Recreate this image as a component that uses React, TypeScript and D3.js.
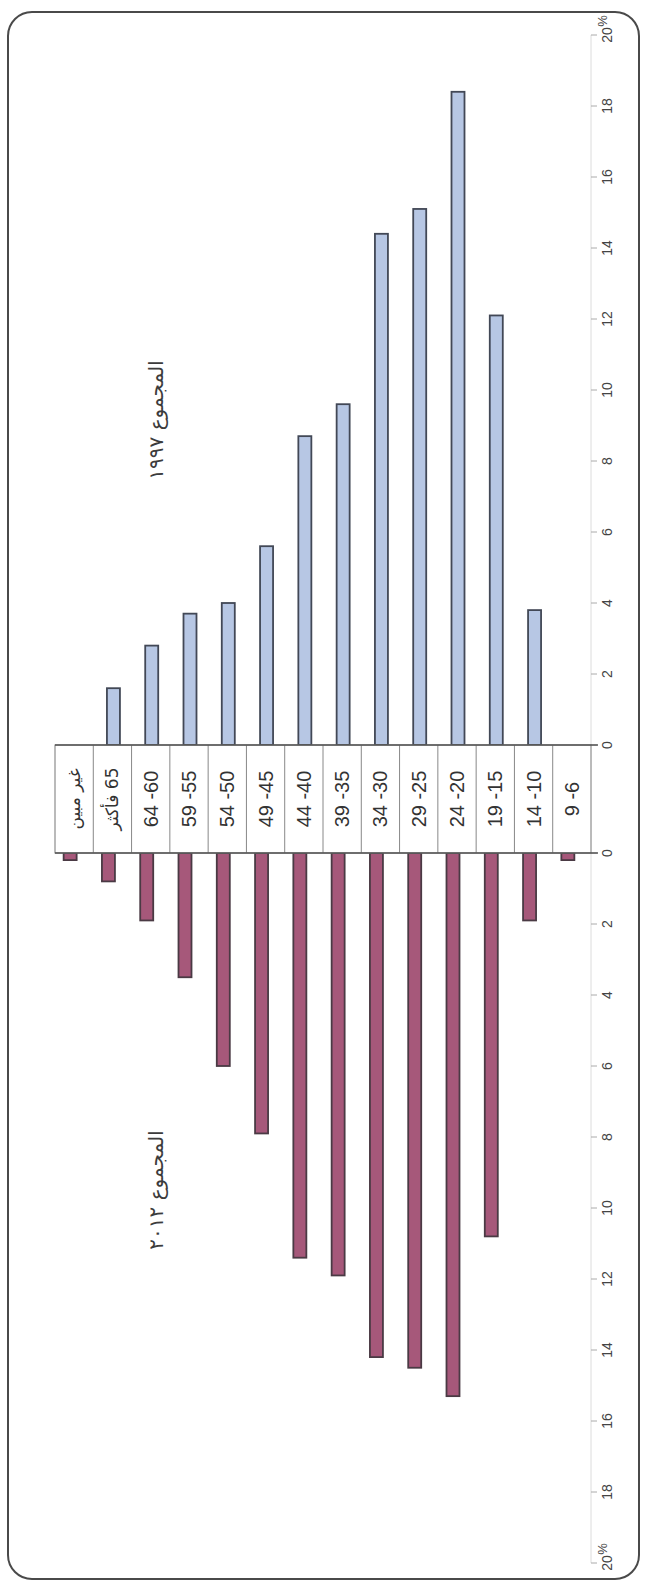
import { scaleBand, scaleLinear } from 'd3';

// Age groups, in the order they run across the (rotated) chart
const ageGroups = [
  'غير مبين',
  '65 فأكثر',
  '64 -60',
  '59 -55',
  '54 -50',
  '49 -45',
  '44 -40',
  '39 -35',
  '34 -30',
  '29 -25',
  '24 -20',
  '19 -15',
  '14 -10',
  '9 -6',
];

// Share of total, percent
const total1997 = [0, 1.6, 2.8, 3.7, 4.0, 5.6, 8.7, 9.6, 14.4, 15.1, 18.4, 12.1, 3.8, 0];
const total2012 = [0.2, 0.8, 1.9, 3.5, 6.0, 7.9, 11.4, 11.9, 14.2, 14.5, 15.3, 10.8, 1.9, 0.2];

const valueTicks = [0, 2, 4, 6, 8, 10, 12, 14, 16, 18, 20];
const title1997 = 'المجموع ١٩٩٧';
const title2012 = 'المجموع ٢٠١٢';

const W = 648;
const H = 1585;

const latin = '"Liberation Sans Narrow", "Liberation Sans", Arial, sans-serif';
const arabic = '"DejaVu Sans", sans-serif';

export default function App() {
  const x = scaleBand<string>().domain(ageGroups).range([55, 591]).paddingInner(0);
  const yUp = scaleLinear().domain([0, 20]).range([745, 35]);
  const yDown = scaleLinear().domain([0, 20]).range([853, 1563]);

  const barW = 13;
  const bw = x.bandwidth();
  const axisX = x.range()[1];
  const labelX = 607;

  const boxTop = yUp(0);
  const boxBottom = yDown(0);

  return (
    <svg
      width={W}
      height={H}
      style={{ position: 'absolute', left: 0, top: 0, display: 'block', background: '#fff' }}
    >
      {/* outer rounded frame */}
      <rect x={8} y={12} width={631} height={1567} rx={24} fill="none" stroke="#4a4a4a" strokeWidth={2} />

      {/* value axis lines */}
      <line x1={axisX} x2={axisX} y1={yUp(20)} y2={yUp(0)} stroke="#dcdcdc" />
      <line x1={axisX} x2={axisX} y1={yDown(0)} y2={yDown(20)} stroke="#dcdcdc" />

      {/* tick marks and labels, 1997 half */}
      {valueTicks.map((t) => (
        <g key={`u${t}`}>
          <line x1={axisX} x2={axisX + 6} y1={yUp(t)} y2={yUp(t)} stroke="#aaa" />
          <text
            x={labelX}
            y={yUp(t)}
            transform={`rotate(-90 ${labelX} ${yUp(t)})`}
            textAnchor="middle"
            dominantBaseline="central"
            fontSize={14}
            fontFamily={latin}
            fill="#444"
          >
            {t}
          </text>
        </g>
      ))}
      {/* tick marks and labels, 2012 half */}
      {valueTicks.map((t) => (
        <g key={`d${t}`}>
          <line x1={axisX} x2={axisX + 6} y1={yDown(t)} y2={yDown(t)} stroke="#aaa" />
          <text
            x={labelX}
            y={yDown(t)}
            transform={`rotate(-90 ${labelX} ${yDown(t)})`}
            textAnchor="middle"
            dominantBaseline="central"
            fontSize={14}
            fontFamily={latin}
            fill="#444"
          >
            {t}
          </text>
        </g>
      ))}
      {/* percent signs next to the 20 labels */}
      {[yUp(20) - 14, yDown(20) - 14].map((yy, i) => (
        <text
          key={`p${i}`}
          x={labelX - 5}
          y={yy}
          transform={`rotate(-90 ${labelX - 5} ${yy})`}
          textAnchor="middle"
          dominantBaseline="central"
          fontSize={13}
          fontFamily={latin}
          fill="#444"
        >
          %
        </text>
      ))}

      {/* 1997 bars (upward) */}
      {ageGroups.map((g, i) =>
        total1997[i] > 0 ? (
          <rect
            key={`b${g}`}
            x={(x(g) ?? 0) + bw / 2 - barW / 2 + 1}
            y={yUp(total1997[i])}
            width={barW}
            height={yUp(0) - yUp(total1997[i])}
            fill="#b7c7e4"
            stroke="#424856"
            strokeWidth={1.8}
          />
        ) : null
      )}

      {/* 2012 bars (downward) */}
      {ageGroups.map((g, i) =>
        total2012[i] > 0 ? (
          <rect
            key={`r${g}`}
            x={(x(g) ?? 0) + bw / 2 - barW / 2 - 4}
            y={yDown(0)}
            width={barW}
            height={yDown(total2012[i]) - yDown(0)}
            fill="#a6587a"
            stroke="#4a3a44"
            strokeWidth={1.8}
          />
        ) : null
      )}

      {/* category box */}
      <rect x={x.range()[0]} y={boxTop} width={axisX - x.range()[0]} height={boxBottom - boxTop} fill="#fff" stroke="#777" />
      {ageGroups.slice(1).map((g) => (
        <line key={`s${g}`} x1={x(g)} x2={x(g)} y1={boxTop} y2={boxBottom} stroke="#888" />
      ))}
      <line x1={x.range()[0]} x2={axisX + 7} y1={boxTop} y2={boxTop} stroke="#555" strokeWidth={1.4} />
      <line x1={x.range()[0]} x2={axisX + 7} y1={boxBottom} y2={boxBottom} stroke="#555" strokeWidth={1.4} />
      {ageGroups.map((g, i) => {
        const cx = (x(g) ?? 0) + bw / 2;
        const cy = (boxTop + boxBottom) / 2;
        const isArabic = i < 2;
        return (
          <text
            key={`l${g}`}
            x={cx}
            y={cy}
            transform={`rotate(-90 ${cx} ${cy})`}
            textAnchor="middle"
            dominantBaseline="central"
            direction={isArabic ? 'rtl' : 'ltr'}
            fontSize={isArabic ? 17 : 20}
            fontFamily={isArabic ? arabic : latin}
            fill="#333"
          >
            {g}
          </text>
        );
      })}

      {/* series titles */}
      <text
        x={156}
        y={420}
        transform={`rotate(-90 156 420)`}
        textAnchor="middle"
        dominantBaseline="central"
        direction="rtl"
        fontSize={20}
        fontFamily={arabic}
        fill="#3c3c3c"
      >
        {title1997}
      </text>
      <text
        x={156}
        y={1190}
        transform={`rotate(-90 156 1190)`}
        textAnchor="middle"
        dominantBaseline="central"
        direction="rtl"
        fontSize={20}
        fontFamily={arabic}
        fill="#3c3c3c"
      >
        {title2012}
      </text>
    </svg>
  );
}
